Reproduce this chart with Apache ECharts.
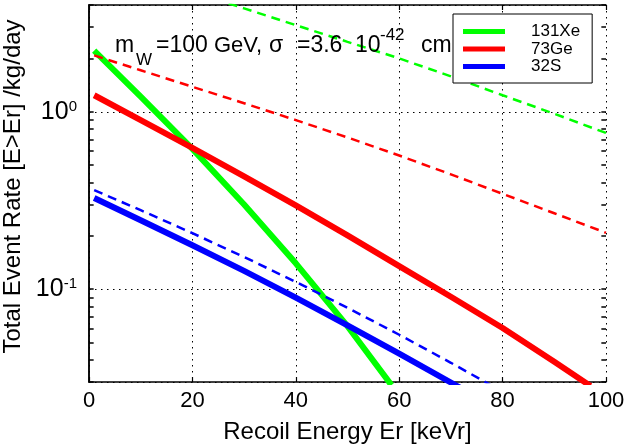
<!DOCTYPE html>
<html><head><meta charset="utf-8">
<script src="https://cdn.jsdelivr.net/npm/echarts@6/dist/echarts.min.js"></script>
<style>html,body{margin:0;padding:0;background:#fff}#c{width:629px;height:445px}</style>
</head><body><div id="c"></div>
<script>
const FONT = 'Liberation Sans, Arial, Helvetica, sans-serif';

const seriesNames = ['131Xe', '73Ge', '32S'];
const xTickValues = [0, 20, 40, 60, 80, 100];
const yMinorTicks = [0.03, 0.04, 0.05, 0.06, 0.07, 0.08, 0.09, 0.1, 0.2, 0.3, 0.4, 0.5, 0.6, 0.7, 0.8, 0.9, 1, 2, 3, 4];

// 131Xe
const energyXeSolid = [1, 10, 20, 30, 40, 50, 58.5];
const rateXeSolid   = [2.21, 1.218, 0.618, 0.300, 0.140, 0.0619, 0.0288];
const energyXeDash  = [27, 30, 40, 50, 60, 70, 80, 90, 100];
const rateXeDash    = [4.08, 3.83, 3.08, 2.48, 2.0, 1.585, 1.24, 0.975, 0.76];
// 73Ge
const energyGeSolid = [1, 10, 20, 30, 40, 50, 60, 70, 80, 90, 97];
const rateGeSolid   = [1.24, 0.898, 0.626, 0.433, 0.297, 0.201, 0.135, 0.0907, 0.0605, 0.039, 0.0285];
const energyGeDash  = [1, 10, 20, 30, 40, 50, 60, 70, 80, 90, 100];
const rateGeDash    = [2.08, 1.715, 1.384, 1.118, 0.898, 0.717, 0.567, 0.444, 0.345, 0.268, 0.208];
// 32S
const energySSolid  = [1, 10, 20, 30, 40, 50, 60, 70, 72];
const rateSSolid    = [0.327, 0.245, 0.177, 0.127, 0.0897, 0.0626, 0.0433, 0.0298, 0.0276];
const energySDash   = [1, 10, 20, 30, 40, 50, 60, 70, 78];
const rateSDash     = [0.362, 0.279, 0.207, 0.152, 0.110, 0.0786, 0.0554, 0.0385, 0.0285];

const colors = ['#00ff00', '#ff0000', '#0000ff'];

function pairs(xs, ys) { return xs.map((x, i) => [x, ys[i]]); }

const chart = echarts.init(document.getElementById('c'), null, {renderer: 'canvas'});

const X_MIN = 0, X_MAX = 100, TICK_LEN = 0.9;

// minor ticks on the log axes (left and right, pointing inwards)
const minorTickLines = [];
yMinorTicks.forEach(function (v) {
  minorTickLines.push([{coord: [X_MIN, v]}, {coord: [X_MIN + TICK_LEN, v]}]);
  minorTickLines.push([{coord: [X_MAX - TICK_LEN, v]}, {coord: [X_MAX, v]}]);
});

function solid(name, color, xs, ys, z) {
  return {name: name, type: 'line', data: pairs(xs, ys),
    symbol: 'none', showSymbol: false, clip: true, z: z, animation: false,
    lineStyle: {color: color, width: 6, cap: 'butt', join: 'round'}, itemStyle: {color: color}};
}
function dashed(name, color, xs, ys, z) {
  return {name: name, type: 'line', data: pairs(xs, ys),
    symbol: 'none', showSymbol: false, clip: true, z: z, animation: false,
    lineStyle: {color: color, width: 2.5, type: [9, 6]}, itemStyle: {color: color}};
}

function txt(s, x, y, size) {
  return {type: 'text', x: x, y: y, z: 5, silent: true,
    style: {text: s, fontSize: size, fontFamily: FONT, fill: '#000', verticalAlign: 'middle', align: 'left'}};
}

const geDash = dashed(seriesNames[1], colors[1], energyGeDash, rateGeDash, 3);
geDash.markLine = {silent: true, symbol: ['none', 'none'], animation: false,
  label: {show: false},
  lineStyle: {color: '#000', width: 1.5, type: 'solid'},
  data: minorTickLines};

const option = {
  animation: false,
  backgroundColor: '#fff',
  textStyle: {fontFamily: FONT, color: '#000'},
  grid: {left: 89, top: 5, right: 23, bottom: 63, containLabel: false, outerBoundsMode: 'none'},
  xAxis: [
    {type: 'value', position: 'bottom', min: X_MIN, max: X_MAX, interval: 20,
      name: 'Recoil Energy Er [keVr]', nameLocation: 'middle', nameGap: 38,
      nameTextStyle: {fontSize: 24, color: '#000', fontFamily: FONT},
      axisLine: {lineStyle: {color: '#000', width: 1.5}},
      axisTick: {inside: true, length: 5, lineStyle: {color: '#000', width: 1.2}},
      axisLabel: {fontSize: 22, color: '#000', margin: 8, fontFamily: FONT},
      splitLine: {show: true, lineStyle: {color: '#000', width: 1, type: [1.5, 4.5]}}},
    {type: 'value', position: 'top', min: X_MIN, max: X_MAX, interval: 20,
      axisLine: {lineStyle: {color: '#000', width: 1.5}},
      axisTick: {inside: true, length: 5, lineStyle: {color: '#000', width: 1.2}},
      axisLabel: {show: false}, splitLine: {show: false}}
  ],
  yAxis: [
    {type: 'log', logBase: 10, position: 'left', min: 0.03, max: 4,
      name: 'Total Event Rate [E>Er] /kg/day', nameLocation: 'middle', nameGap: 54, nameRotate: 90,
      nameTextStyle: {fontSize: 24, color: '#000', fontFamily: FONT, padding: [0, 0, 0, 14]},
      axisLine: {show: true, lineStyle: {color: '#000', width: 1.5}},
      axisTick: {show: false},
      axisLabel: {margin: 12, color: '#000', fontFamily: FONT,
        formatter: function (v) {
          const e = Math.log10(v); const r = Math.round(e);
          if (Math.abs(e - r) < 1e-6) return '{b|10}{s|' + r + '}';
          return '';
        },
        rich: {
          b: {fontSize: 25, lineHeight: 25, verticalAlign: 'middle', color: '#000', fontFamily: FONT},
          s: {fontSize: 15, lineHeight: 15, verticalAlign: 'top', padding: [0, 0, 17, 0], color: '#000', fontFamily: FONT}
        }},
      splitLine: {show: true, lineStyle: {color: '#000', width: 1, type: [1.5, 4.5]}}},
    {type: 'log', logBase: 10, position: 'right', min: 0.03, max: 4,
      axisLine: {show: true, lineStyle: {color: '#000', width: 1.5}},
      axisTick: {show: false}, axisLabel: {show: false}, splitLine: {show: false}}
  ],
  legend: {
    data: seriesNames, orient: 'vertical', left: 453, top: 14,
    padding: [9, 12, 8, 10], itemGap: 0.5, itemWidth: 42, itemHeight: 5, icon: 'rect',
    borderColor: '#000', borderWidth: 1, backgroundColor: '#fff', selectedMode: false,
    formatter: function (name) { return '{p| }' + name; },
    textStyle: {fontFamily: FONT, fontSize: 17, color: '#000', lineHeight: 15,
      rich: {p: {width: 21, fontSize: 17, lineHeight: 15}}},
    z: 10
  },
  graphic: [
    txt('m', 115, 46, 23),
    txt('W', 136, 60, 17),
    txt('=100', 156, 46, 23),
    txt('GeV,', 214, 46, 22),
    txt('σ', 269, 46, 23),
    txt('=3.6', 297, 46, 23),
    txt('10', 355, 46, 23),
    txt('-42', 380, 35, 17),
    txt('cm', 421, 46, 23)
  ],
  series: [
    solid(seriesNames[0], colors[0], energyXeSolid, rateXeSolid, 3),
    solid(seriesNames[1], colors[1], energyGeSolid, rateGeSolid, 4),
    solid(seriesNames[2], colors[2], energySSolid, rateSSolid, 5),
    dashed(seriesNames[0], colors[0], energyXeDash, rateXeDash, 3),
    geDash,
    dashed(seriesNames[2], colors[2], energySDash, rateSDash, 3)
  ]
};
chart.setOption(option);
</script></body></html>
